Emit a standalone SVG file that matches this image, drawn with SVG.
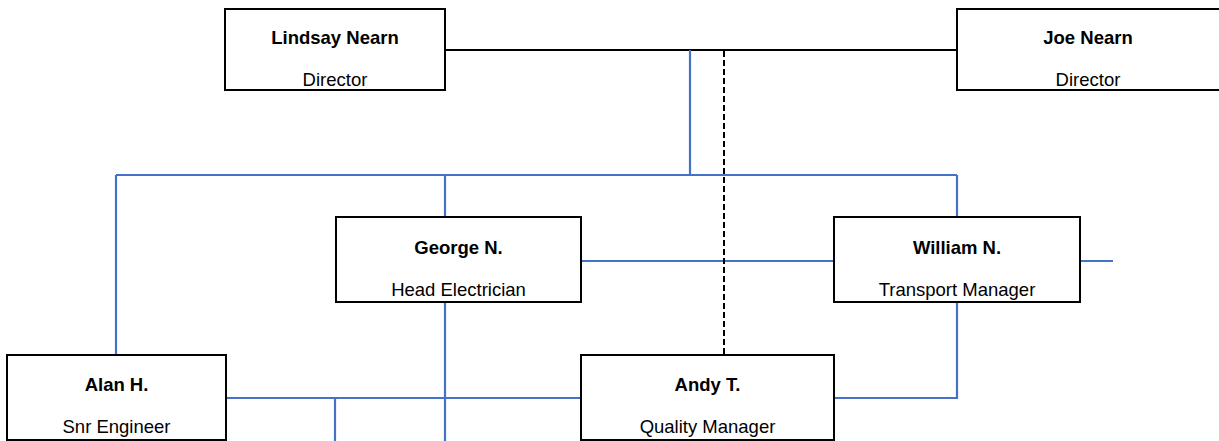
<svg xmlns="http://www.w3.org/2000/svg" width="1219" height="441" viewBox="0 0 1219 441">
<style>
.box{fill:#fff;stroke:#000;stroke-width:2}
.name{font-family:"Liberation Sans",Arial,sans-serif;font-size:18.5px;font-weight:bold;fill:#000;text-anchor:middle}
.title{font-family:"Liberation Sans",Arial,sans-serif;font-size:18.5px;fill:#000;text-anchor:middle}
.blue{stroke:#4472C4;stroke-width:2.2;fill:none}
.black{stroke:#000;stroke-width:2;fill:none}
.dash{stroke:#000;stroke-width:2;fill:none;stroke-dasharray:6 3}
</style>
<rect width="1219" height="441" fill="#fff"/>
<g id="connectors">
<line class="black" x1="445" y1="50" x2="957" y2="50"/>
<line class="blue" x1="690" y1="50" x2="690" y2="175"/>
<line class="blue" x1="116" y1="175" x2="957" y2="175"/>
<line class="blue" x1="116" y1="175" x2="116" y2="355"/>
<line class="blue" x1="445" y1="175" x2="445" y2="217"/>
<line class="blue" x1="957" y1="175" x2="957" y2="217"/>
<line class="blue" x1="581" y1="261" x2="834" y2="261"/>
<line class="blue" x1="1080" y1="261" x2="1113" y2="261"/>
<line class="blue" x1="445" y1="302" x2="445" y2="441"/>
<line class="blue" x1="226" y1="398" x2="581" y2="398"/>
<line class="blue" x1="335" y1="398" x2="335" y2="441"/>
<polyline class="blue" points="834,398 957,398 957,302"/>
<line class="dash" x1="724" y1="51" x2="724" y2="355"/>
</g>
<g id="lindsay">
<rect class="box" x="225" y="9" width="220" height="81"/>
<text class="name" x="335" y="44">Lindsay Nearn</text>
<text class="title" x="335" y="86">Director</text>
</g>
<g id="joe">
<rect class="box" x="957" y="9" width="263" height="81"/>
<text class="name" x="1088" y="44">Joe Nearn</text>
<text class="title" x="1088" y="86">Director</text>
</g>
<g id="george">
<rect class="box" x="336" y="217" width="245" height="85"/>
<text class="name" x="458.5" y="254">George N.</text>
<text class="title" x="458.5" y="296">Head Electrician</text>
</g>
<g id="william">
<rect class="box" x="834" y="217" width="246" height="85"/>
<text class="name" x="957" y="254">William N.</text>
<text class="title" x="957" y="296">Transport Manager</text>
</g>
<g id="alan">
<rect class="box" x="7" y="355" width="219" height="85"/>
<text class="name" x="116.5" y="391">Alan H.</text>
<text class="title" x="116.5" y="433">Snr Engineer</text>
</g>
<g id="andy">
<rect class="box" x="581" y="355" width="253" height="85"/>
<text class="name" x="707.5" y="391">Andy T.</text>
<text class="title" x="707.5" y="433">Quality Manager</text>
</g>
</svg>
